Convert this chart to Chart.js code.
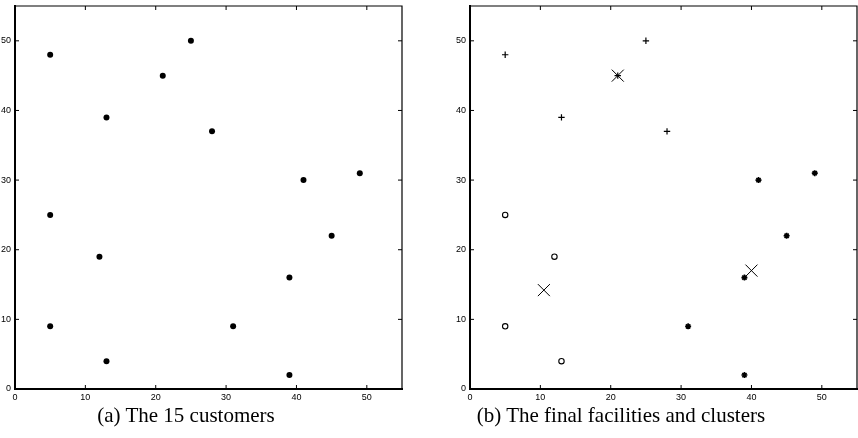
<!DOCTYPE html>
<html>
<head>
<meta charset="utf-8">
<script src="https://cdn.jsdelivr.net/npm/chart.js@4"></script>
<style>
  body { margin: 0; background: #fff; width: 858px; height: 438px; position: relative; overflow: hidden; }
  .box { position: absolute; top: 0; height: 410px; }
  .cap { position: absolute; top: 403px; font-family: "Liberation Serif", "Times New Roman", serif; font-size: 21px; color: #000; white-space: nowrap; transform: translateX(-50%); }
</style>
</head>
<body>
<div class="box" style="left:0;width:420px"><canvas id="left"></canvas></div>
<div class="box" style="left:455px;width:403px"><canvas id="right"></canvas></div>
<div class="cap" style="left:186px">(a) The 15 customers</div>
<div class="cap" style="left:621px">(b) The final facilities and clusters</div>
<script>
// customer coordinates
const custX = [5, 25, 21, 13, 28, 41, 49, 5, 45, 12, 39, 5, 31, 13, 39];
const custY = [48, 50, 45, 39, 37, 30, 31, 25, 22, 19, 16, 9, 9, 4, 2];

// clusters after the final assignment
const plusX = [5, 25, 21, 13, 28];
const plusY = [48, 50, 45, 39, 37];
const circX = [5, 12, 5, 13];
const circY = [25, 19, 9, 4];
const starX = [41, 49, 45, 39, 31, 39];
const starY = [30, 31, 22, 16, 9, 2];

// facility locations
const facX = [21, 10.5, 40];
const facY = [45, 14.2, 17];

const tickVals = [0, 10, 20, 30, 40, 50];

const pts = (xs, ys) => xs.map((x, i) => ({ x: x, y: ys[i] }));

// matlab style box with inward ticks on all four sides
const boxPlugin = {
  id: 'box',
  afterDraw(chart) {
    const ctx = chart.ctx;
    const a = chart.chartArea;
    const sx = chart.scales.x, sy = chart.scales.y;
    ctx.save();
    ctx.strokeStyle = '#000';
    ctx.lineWidth = 1.2;
    ctx.beginPath();
    ctx.moveTo(a.left, a.top); ctx.lineTo(a.right, a.top); ctx.lineTo(a.right, a.bottom);
    ctx.stroke();
    ctx.lineWidth = 1;
    ctx.beginPath();
    tickVals.forEach(v => {
      const px = sx.getPixelForValue(v);
      const py = sy.getPixelForValue(v);
      if (v > 0) {
        ctx.moveTo(px, a.bottom); ctx.lineTo(px, a.bottom - 4);
        ctx.moveTo(px, a.top); ctx.lineTo(px, a.top + 4);
        ctx.moveTo(a.left, py); ctx.lineTo(a.left + 4, py);
        ctx.moveTo(a.right, py); ctx.lineTo(a.right - 4, py);
      }
    });
    ctx.stroke();
    ctx.restore();
  }
};

function axes() {
  const tickFont = { family: 'Liberation Sans, Arial, sans-serif', size: 9 };
  return {
    x: {
      type: 'linear', min: 0, max: 55,
      afterBuildTicks: s => { s.ticks = tickVals.map(v => ({ value: v })); },
      ticks: { font: tickFont, color: '#000', padding: 3, maxRotation: 0 },
      grid: { drawOnChartArea: false, drawTicks: false },
      border: { display: true, color: '#000', width: 2 },
      afterFit: s => { s.height = 21; s.paddingLeft = 0; s.paddingRight = 0; }
    },
    y: {
      type: 'linear', min: 0, max: 55,
      afterBuildTicks: s => { s.ticks = tickVals.map(v => ({ value: v })); },
      ticks: { font: tickFont, color: '#000', padding: 4 },
      grid: { drawOnChartArea: false, drawTicks: false },
      border: { display: true, color: '#000', width: 2 },
      afterFit: s => { s.width = 15; s.paddingTop = 0; s.paddingBottom = 0; }
    }
  };
}

function baseOptions(padRight) {
  return {
    responsive: true,
    maintainAspectRatio: false,
    animation: false,
    layout: { autoPadding: false, padding: { top: 6, right: padRight, left: 0, bottom: 0 } },
    plugins: { legend: { display: false }, tooltip: { enabled: false } },
    scales: axes()
  };
}

new Chart(document.getElementById('left'), {
  type: 'scatter',
  data: {
    datasets: [{
      data: pts(custX, custY),
      pointStyle: 'circle', pointRadius: 3,
      backgroundColor: '#000', borderColor: '#000', borderWidth: 0
    }]
  },
  options: baseOptions(18),
  plugins: [boxPlugin]
});

new Chart(document.getElementById('right'), {
  type: 'scatter',
  data: {
    datasets: [
      { data: pts(plusX, plusY), pointStyle: 'cross', pointRadius: 3.2, borderColor: '#000', borderWidth: 1.2 },
      { data: pts(circX, circY), pointStyle: 'circle', pointRadius: 2.7, borderColor: '#000', backgroundColor: '#fff', borderWidth: 1.1 },
      { data: pts(starX, starY), pointStyle: 'star', pointRadius: 3, borderColor: '#000', borderWidth: 1.6 },
      { data: pts(facX, facY), pointStyle: 'crossRot', pointRadius: 8.5, borderColor: '#000', borderWidth: 1 }
    ]
  },
  options: baseOptions(1),
  plugins: [boxPlugin]
});
</script>
</body>
</html>
